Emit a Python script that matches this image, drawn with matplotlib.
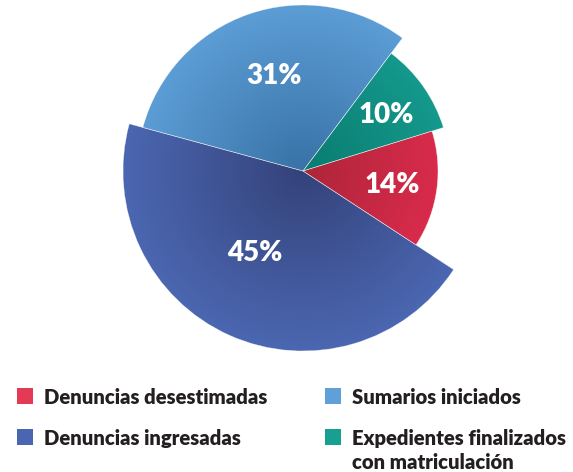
import numpy as np
import matplotlib
matplotlib.use("Agg")
import matplotlib.pyplot as plt
from matplotlib.patches import Wedge, Rectangle
from matplotlib.colors import to_rgb

# ---- data ----
categories = ["Denuncias desestimadas", "Expedientes finalizados\ncon matriculación",
              "Sumarios iniciados", "Denuncias ingresadas"]
values = [14, 10, 31, 45]
pct_labels = ["14%", "10%", "31%", "45%"]
radii = [135, 147, 166, 180]
legend_order = [0, 2, 3, 1]

# ---- style ----
outer_colors = ["#d92b4b", "#14998c", "#5c9dd5", "#4b67b1"]
inner_colors = ["#ad2539", "#0a7c70", "#3872a6", "#34427a"]
legend_colors = ["#e33a55", "#17a090", "#5fa0d8", "#4a66b0"]
W, H = 573, 472
cx, cy = 303, H - 171
start_angle = -33.2
label_r = [90, 100, 99, 95]
label_shift = [-0.9, -1.2, -2.0, -6.0]

plt.rcParams['font.family'] = ['Lato', 'DejaVu Sans']
fig = plt.figure(figsize=(W / 100, H / 100), dpi=100)
ax = fig.add_axes([0, 0, 1, 1])
ax.set_xlim(0, W)
ax.set_ylim(0, H)
ax.axis('off')

total = sum(values)
theta = start_angle
yy, xx = np.mgrid[0:H, 0:W]
xx = xx + 0.5
yy = yy + 0.5
dist = np.hypot(xx - cx, yy - cy)
for i, v in enumerate(values):
    span = 360.0 * v / total
    t1, t2 = theta, theta + span
    R = radii[i]
    w = Wedge((cx, cy), R, t1, t2, facecolor='none', edgecolor='none')
    ax.add_patch(w)
    f = np.clip(dist / R, 0, 1)[..., None]
    c_in = np.array(to_rgb(inner_colors[i]))
    c_out = np.array(to_rgb(outer_colors[i]))
    img = c_in * (1 - f) + c_out * f
    im = ax.imshow(img, extent=(0, W, 0, H), origin='lower', interpolation='bilinear', zorder=1)
    im.set_clip_path(w)
    edge = Wedge((cx, cy), R, t1, t2, facecolor='none', edgecolor='white', linewidth=0.4, alpha=0.6, zorder=2)
    ax.add_patch(edge)
    mid = np.deg2rad((t1 + t2) / 2 + label_shift[i])
    ax.text(cx + label_r[i] * np.cos(mid), cy + label_r[i] * np.sin(mid), pct_labels[i],
            color='white', fontsize=20, fontweight=800, ha='center', va='center', zorder=3)
    theta = t2

# legend
pos = [(17, 396), (325, 396), (17, 437), (325, 437)]
for k, idx in enumerate(legend_order):
    x, y = pos[k]
    ax.add_patch(Rectangle((x, H - y - 8), 16, 16, facecolor=legend_colors[idx], edgecolor='none'))
    lines = categories[idx].split('\n')
    for j, line in enumerate(lines):
        ax.text(x + 27, H - y - 24 * j, line, color='#231f20', fontsize=14.6, fontweight=800,
                ha='left', va='center_baseline')

fig.savefig("out.png", dpi=100)
